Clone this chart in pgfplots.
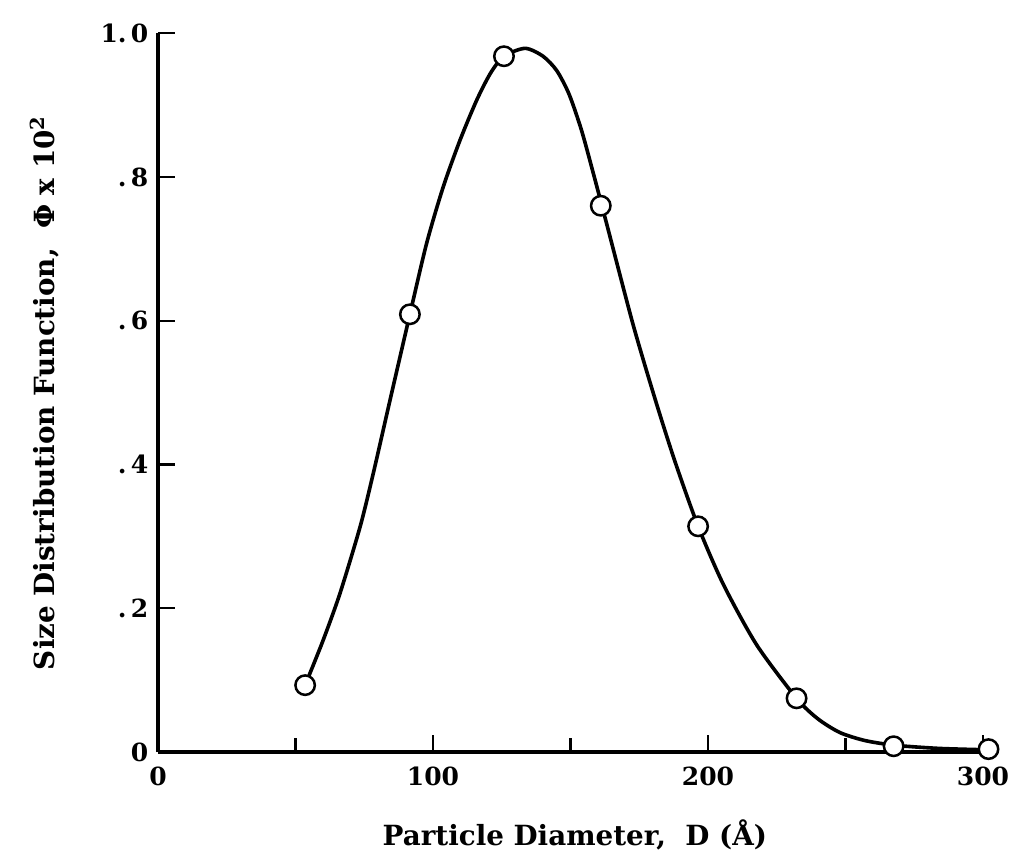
\documentclass[border=0pt]{standalone}
\usepackage{fontspec}
\setmainfont{DejaVu Serif}
\usepackage{pgfplots}
\pgfplotsset{compat=1.18}
\begin{document}
\begin{tikzpicture}
\path[use as bounding box] (-56.88pt,-39.24pt) rectangle (308.88pt,270.72pt);
\begin{axis}[
  at={(0,0)}, anchor=south west,
  scale only axis, width=301.95pt, height=258.75pt,
  xmin=0, xmax=305, ymin=0, ymax=1,
  axis x line=bottom, axis y line=left,
  axis line style={line width=1.3pt, -},
  clip=false,
  xtick={0,100,200,300}, xticklabels={0,100,200,300},
  minor xtick={50,150,250},
  ytick={0,0.2,0.4,0.6,0.8,1.0},
  yticklabels={0,{.\,2},{.\,4},{.\,6},{.\,8},{1.\,0}},
  tick align=inside,
  major tick length=6pt, minor tick length=5pt,
  tick style={line width=0.8pt, black},
  ticklabel style={font=\bfseries\fontsize{9}{11}\selectfont},
  xticklabel style={yshift=-2pt},
  label style={font=\bfseries\fontsize{10}{12}\selectfont},
  xlabel={Particle Diameter,\ \ D (Å)},
  ylabel={Size Distribution Function,\ \ Φ x 10\textsuperscript{2}},
  xlabel style={at={(axis description cs:0.497,0)}, anchor=center, yshift=-30pt},
  ylabel style={at={(axis description cs:0,0.5)}, anchor=center, yshift=40.7pt},
]
\addplot[black, line width=1.3pt, smooth, tension=0.45] coordinates {
(53.5,0.093) (60,0.155) (66.2,0.221) (73.5,0.3135) (78.3,0.388)
(84.4,0.490) (91.6,0.609) (97.7,0.708) (103.7,0.786) (109.8,0.851)
(115.9,0.907) (121,0.945) (125.8,0.968) (133.5,0.979) (140,0.968) (145,0.948) (149.5,0.915)
(154,0.865) (158.3,0.805) (163,0.737) (172.8,0.594) (181,0.488) (188,0.404)
(196.4,0.314) (205.6,0.233) (217.7,0.149) (232.2,0.0747) (240,0.046) (248,0.027)
(257,0.016) (267.6,0.0095) (284,0.005) (302,0.003)
};
\addplot[only marks, mark=*, mark size=3.5pt, mark options={fill=white, draw=black, line width=0.9pt}] coordinates {
(53.5,0.093) (91.6,0.609) (125.8,0.968) (161,0.760) (196.4,0.314) (232.2,0.0747) (267.5,0.008) (302,0.004)
};
\end{axis}
\end{tikzpicture}
\end{document}
